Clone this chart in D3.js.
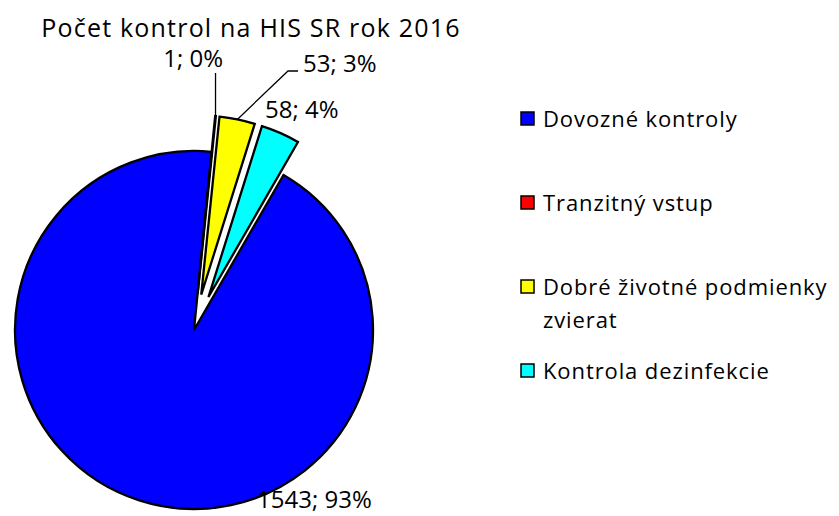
<!DOCTYPE html>
<html>
<head>
<meta charset="utf-8">
<script src="https://cdn.jsdelivr.net/npm/d3@7"></script>
<style>
  body { margin: 0; background: #fff; }
  text { font-family: "Open Sans", sans-serif; fill: #000; }
</style>
</head>
<body>
<script>
// chart data
const title = "Počet kontrol na HIS SR rok 2016";
const categories = ["Dovozné kontroly", "Tranzitný vstup", "Dobré životné podmienky zvierat", "Kontrola dezinfekcie"];
const counts = [1543, 1, 53, 58];
const colors = ["#0000ff", "#ff0000", "#ffff00", "#00ffff"];

// layout
const w = 839, h = 516;
const cx = 194, cy = 330, r = 179;
const explode = 36;
const exploded = [false, true, true, true];
const firstAngle = 30; // degrees, like excel "angle of first slice"
// label spots: x, baseline y, anchor, leader type
const labelSpots = [
  { x: 257, y: 508, anchor: "start", leader: null },
  { x: 223, y: 67, anchor: "end", leader: "vertical" },
  { x: 303, y: 72, anchor: "start", leader: "elbow" },
  { x: 265, y: 118, anchor: "start", leader: null }
];

const total = d3.sum(counts);

let svg = d3.select("body")
  .append("svg")
  .attr("width", w)
  .attr("height", h);

svg.append("text")
  .attr("x", 251)
  .attr("y", 37)
  .attr("text-anchor", "middle")
  .style("font-size", "25px")
  .style("letter-spacing", "1.2px")
  .text(title);

let pie = d3.pie()
  .sort(null)
  .startAngle(firstAngle * Math.PI / 180)
  .endAngle(firstAngle * Math.PI / 180 + 2 * Math.PI)
  .value(d => d);

let arc = d3.arc().innerRadius(0).outerRadius(r);
let arcs = pie(counts);

// offset of an exploded slice along its middle angle
function offset(d, i) {
  const mid = (d.startAngle + d.endAngle) / 2;
  const e = exploded[i] ? explode : 0;
  return [Math.sin(mid) * e, -Math.cos(mid) * e];
}

let g = svg.append("g").attr("transform", `translate(${cx},${cy})`);

g.selectAll("path")
  .data(arcs)
  .enter()
  .append("path")
  .attr("d", arc)
  .attr("transform", (d, i) => `translate(${offset(d, i)})`)
  .attr("fill", (d, i) => colors[i])
  .attr("stroke", "#000")
  .attr("stroke-width", 2.3)
  .attr("stroke-linejoin", "miter");

// data labels
arcs.forEach((d, i) => {
  const spot = labelSpots[i];
  const pct = Math.round(d.data / total * 100);
  const mid = (d.startAngle + d.endAngle) / 2;
  const o = offset(d, i);
  const ax = cx + o[0] + Math.sin(mid) * r;
  const ay = cy + o[1] - Math.cos(mid) * r;
  if (spot.leader == "vertical") {
    svg.append("line")
      .attr("x1", ax).attr("y1", ay)
      .attr("x2", ax).attr("y2", spot.y + 6)
      .attr("stroke", "#000").attr("stroke-width", 1.3);
  } else if (spot.leader == "elbow") {
    svg.append("polyline")
      .attr("points", [[ax, ay], [spot.x - 15, spot.y - 1], [spot.x - 5, spot.y - 1]].join(" "))
      .attr("fill", "none")
      .attr("stroke", "#000").attr("stroke-width", 1.3);
  }
  svg.append("text")
    .attr("x", spot.x)
    .attr("y", spot.y)
    .attr("text-anchor", spot.anchor)
    .style("font-size", "24px")
    .text(d.data + "; " + pct + "%");
});

// legend
const legX = 521, legY = 119, legStep = 84, lineH = 33, maxW = 290;
let leg = svg.append("g");
let row = 0;
categories.forEach((name, i) => {
  const y = legY + row * legStep;
  leg.append("rect")
    .attr("x", legX).attr("y", y - 7)
    .attr("width", 13).attr("height", 13)
    .attr("fill", colors[i])
    .attr("stroke", "#000").attr("stroke-width", 1.5);
  let t = leg.append("text")
    .attr("x", legX + 22)
    .attr("y", y + 8)
    .style("font-size", "22px")
    .style("letter-spacing", "0.9px");
  // wrap words that do not fit
  let words = name.split(" ");
  let line = [];
  let tspan = t.append("tspan").attr("x", legX + 22).attr("dy", 0);
  words.forEach(word => {
    line.push(word);
    tspan.text(line.join(" "));
    if (tspan.node().getComputedTextLength() > maxW && line.length > 1) {
      line.pop();
      tspan.text(line.join(" "));
      line = [word];
      tspan = t.append("tspan").attr("x", legX + 22).attr("dy", lineH).text(word);
    }
  });
  row++;
});
</script>
</body>
</html>
